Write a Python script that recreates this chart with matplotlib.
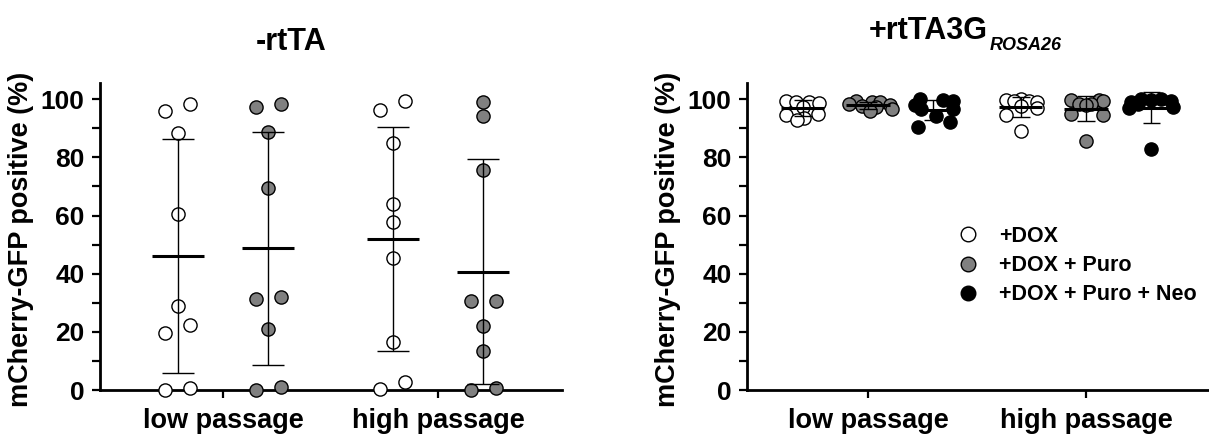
import matplotlib
matplotlib.use("Agg")
import matplotlib.pyplot as plt
from matplotlib.lines import Line2D
import numpy as np

plt.rcParams['font.family'] = ['Liberation Sans', 'DejaVu Sans']
plt.rcParams['font.weight'] = 'bold'

# ---------------- data ----------------
categories = ['low passage', 'high passage']
treatments = ['+DOX', '+DOX + Puro', '+DOX + Puro + Neo']

# -rtTA panel
neg_low_dox = [96.0, 98.3, 88.3, 60.6, 29.0, 22.4, 19.7, 0.0, 0.6]
neg_low_puro = [97.5, 98.3, 88.9, 69.4, 31.2, 32.1, 20.9, 0.0, 1.1]
neg_high_dox = [96.3, 99.5, 84.9, 64.0, 57.7, 45.5, 16.6, 0.2, 2.6]
neg_high_puro = [98.9, 94.3, 75.7, 30.6, 30.6, 22.0, 13.5, 0.0, 0.8]
neg_mean_dox = [46.0, 51.9]
neg_sd_dox = [40.2, 38.5]
neg_mean_puro = [48.7, 40.7]
neg_sd_puro = [40.2, 38.7]

# +rtTA3G panel
pos_low_dox = [99.5, 99.2, 99.0, 98.8, 97.5, 95.0, 94.5, 93.5, 93.0]
pos_low_puro = [99.5, 99.2, 99.0, 98.5, 98.0, 97.8, 97.5, 96.5, 95.8]
pos_low_neo = [100.0, 99.8, 99.5, 98.0, 96.5, 96.5, 94.3, 92.2, 90.5]
pos_high_dox = [100.0, 99.8, 99.5, 99.3, 99.0, 97.6, 97.0, 94.7, 89.0]
pos_high_puro = [99.8, 99.6, 99.5, 98.5, 98.5, 98.0, 94.8, 94.5, 85.8]
pos_high_neo = [100.0, 100.0, 99.8, 99.5, 99.0, 98.5, 97.5, 97.0, 83.0]
pos_mean_dox = [96.9, 97.3]
pos_sd_dox = [2.7, 3.5]
pos_mean_puro = [97.9, 96.8]
pos_sd_puro = [1.3, 4.4]
pos_mean_neo = [96.4, 97.1]
pos_sd_neo = [3.5, 5.4]

# ---------------- layout / style (positions) ----------------
neg_low_dox_jit = [-1, 1, 0, 0, 0, 1, -1, -1, 1]
neg_low_puro_jit = [-1, 1, 0, 0, -1, 1, 0, -1, 1]
neg_high_dox_jit = [-1, 1, 0, 0, 0, 0, 0, -1, 1]
neg_high_puro_jit = [0, 0, 0, -1, 1, 0, 0, -1, 1]
pos_low_dox_jit = [-17, -7, 6, 16, 0, 15, -17, 1, -6]
pos_low_puro_jit = [-12, 4, 12, -19, 22, -6, 8, 24, 2]
pos_low_neo_jit = [-13, 10, 20, -18, -12, 20, 3, 17, -15]
pos_high_dox_jit = [0, -15, -7, 8, 16, 0, 16, -15, 0]
pos_high_puro_jit = [-15, 13, 17, -7, 5, 0, -15, 17, 0]
pos_high_neo_jit = [-10, 10, 0, 20, -20, -13, 22, -22, 0]

colors = ['white', '#808080', 'black']

W, H = 1209, 437
fig = plt.figure(figsize=(W / 100, H / 100), dpi=100)
axL = fig.add_axes([100 / W, 1 - 390 / H, 462 / W, 307 / H])
axR = fig.add_axes([747 / W, 1 - 390 / H, 462 / W, 307 / H])

MS = 9.5


def draw_group(ax, x, vals, jit, color, mean, sd, mean_hw, whisk_hw):
    xs = x + np.asarray(jit, dtype=float)
    ax.plot(xs, vals, ls='none', marker='o', ms=MS, mfc=color, mec='black',
            mew=1.0, clip_on=False, zorder=3)
    ax.hlines(mean, x - mean_hw, x + mean_hw, color='black', lw=2.2, zorder=4)
    ax.vlines(x, mean - sd, mean + sd, color='black', lw=1.0, zorder=4)
    ax.hlines([mean - sd, mean + sd], x - whisk_hw, x + whisk_hw,
              color='black', lw=1.0, zorder=4)


def style_axes(ax, xlim):
    ax.set_xlim(*xlim)
    ax.set_ylim(0, 105.6)
    for s in ['top', 'right']:
        ax.spines[s].set_visible(False)
    for s in ['left', 'bottom']:
        ax.spines[s].set_linewidth(2.0)
    ax.set_yticks([0, 20, 40, 60, 80, 100])
    ax.set_yticks([10, 30, 50, 70, 90], minor=True)
    ax.set_xticks([0, 1])
    ax.set_xticklabels(categories, fontsize=19.5, fontweight='bold')
    ax.tick_params(axis='y', which='major', direction='out', length=6, width=1.6,
                   labelsize=19, pad=5)
    ax.tick_params(axis='y', which='minor', direction='out', length=5.5, width=1.6)
    ax.tick_params(axis='x', which='major', direction='out', length=6, width=1.6,
                   pad=7)
    for lab in ax.get_yticklabels():
        lab.set_fontweight('bold')
    ax.set_ylabel('mCherry-GFP positive (%)', fontsize=19.5, fontweight='bold')
    ax.yaxis.set_label_coords(-0.142, 0.49)


# Left panel
sprL = 0.058
offL = 0.21
neg_sets = [
    (0, neg_low_dox, neg_low_dox_jit, colors[0], neg_mean_dox[0], neg_sd_dox[0], -offL),
    (0, neg_low_puro, neg_low_puro_jit, colors[1], neg_mean_puro[0], neg_sd_puro[0], offL),
    (1, neg_high_dox, neg_high_dox_jit, colors[0], neg_mean_dox[1], neg_sd_dox[1], -offL),
    (1, neg_high_puro, neg_high_puro_jit, colors[1], neg_mean_puro[1], neg_sd_puro[1], offL),
]
for g, vals, jit, c, m, s, off in neg_sets:
    draw_group(axL, g + off, vals, np.asarray(jit) * sprL, c, m, s, 0.121, 0.074)
style_axes(axL, (-0.572, 1.577))

# Right panel
pxR = 218.0
offR = 0.30
pos_sets = [
    (0, pos_low_dox, pos_low_dox_jit, colors[0], pos_mean_dox[0], pos_sd_dox[0], -offR),
    (0, pos_low_puro, pos_low_puro_jit, colors[1], pos_mean_puro[0], pos_sd_puro[0], 0.0),
    (0, pos_low_neo, pos_low_neo_jit, colors[2], pos_mean_neo[0], pos_sd_neo[0], offR),
    (1, pos_high_dox, pos_high_dox_jit, colors[0], pos_mean_dox[1], pos_sd_dox[1], -offR),
    (1, pos_high_puro, pos_high_puro_jit, colors[1], pos_mean_puro[1], pos_sd_puro[1], 0.0),
    (1, pos_high_neo, pos_high_neo_jit, colors[2], pos_mean_neo[1], pos_sd_neo[1], offR),
]
for g, vals, jit, c, m, s, off in pos_sets:
    draw_group(axR, g + off, vals, np.asarray(jit) / pxR, c, m, s, 0.099, 0.041)
style_axes(axR, (-0.555, 1.564))

# Legend
handles = [Line2D([], [], ls='none', marker='o', ms=10.5, mfc=c, mec='black', mew=1.0)
           for c in colors]
leg = axR.legend(handles, treatments, loc='upper left',
                 bbox_to_anchor=(957 / W, 1 - 226 / H), bbox_transform=fig.transFigure,
                 frameon=False, handlelength=1.0, handletextpad=0.95, borderpad=0,
                 borderaxespad=0, labelspacing=0.38,
                 prop={'size': 15.5, 'weight': 'bold'})

# Titles
fig.text(291 / W, 1 - 42 / H, '-rtTA', ha='center', va='center', fontsize=22,
         fontweight='bold')
main = fig.text(869 / W, 1 - 31 / H, '+rtTA3G', ha='left', va='center', fontsize=22,
                fontweight='bold')
axR.annotate('ROSA26', xy=(1.0, 0.0), xycoords=main, xytext=(1, 0),
             textcoords='offset points', ha='left', va='center', fontsize=13,
             fontweight='bold', fontstyle='italic')

fig.savefig('out.png', dpi=100)
